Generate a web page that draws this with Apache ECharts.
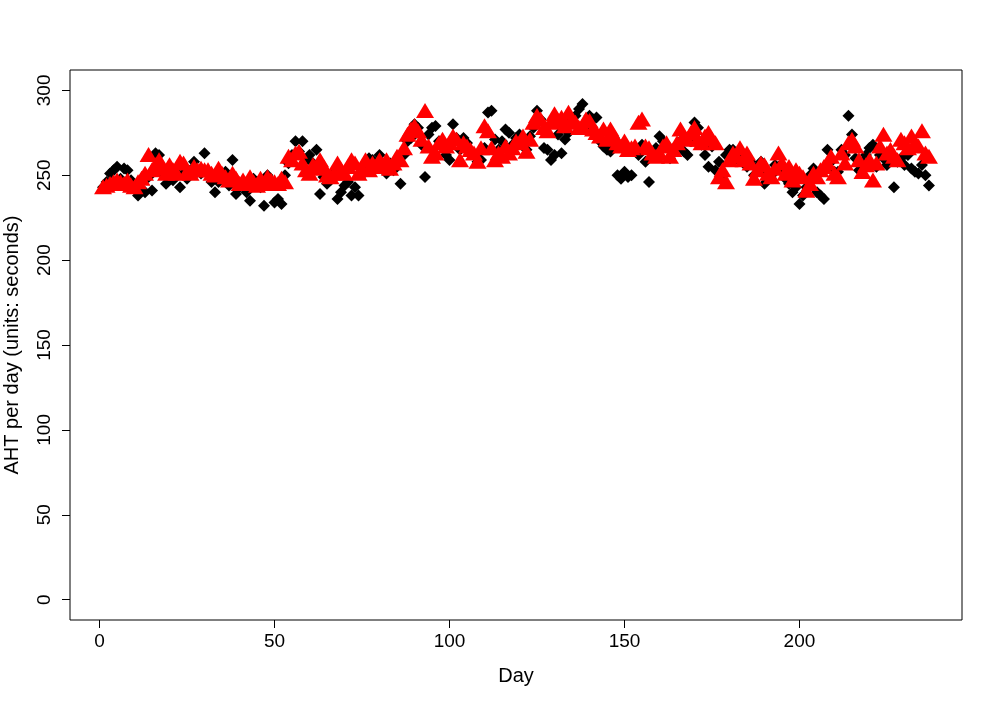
<!DOCTYPE html>
<html>
<head>
<meta charset="utf-8">
<title>AHT per day</title>
<script src="https://cdn.jsdelivr.net/npm/echarts@6/dist/echarts.min.js"></script>
<style>
  html, body { margin: 0; padding: 0; background: #fff; }
  #chart { width: 997px; height: 705px; }
</style>
</head>
<body>
<div id="chart"></div>
<script>
// observed AHT per day (black diamonds), days 1..237
const observed = [
  243, 246, 251, 253, 255, 248, 254, 253, 247, 244,
  238, 242, 240, 249, 241, 263, 262, 251, 245, 249,
  247, 254, 243, 251, 248, 253, 258, 252, 251, 263,
  251, 246, 240, 246, 249, 252, 244, 259, 239, 243,
  246, 240, 235, 248, 246, 243, 232, 250, 246, 234,
  236, 233, 250, 257, 262, 270, 264, 270, 259, 262,
  257, 265, 239, 249, 245, 247, 252, 236, 240, 244,
  246, 238, 243, 238, 255, 252, 260, 259, 257, 262,
  255, 251, 257, 253, 258, 245, 262, 270, 272, 280,
  278, 268, 249, 274, 278, 279, 270, 268, 262, 259,
  280, 272, 265, 272, 269, 264, 262, 258, 259, 266,
  287, 288, 271, 265, 270, 277, 275, 268, 272, 274,
  270, 265, 273, 278, 288, 283, 266, 265, 259, 262,
  274, 263, 271, 275, 283, 285, 289, 292, 279, 285,
  283, 284, 270, 267, 265, 264, 272, 250, 248, 252,
  249, 250, 266, 262, 268, 258, 246, 262, 266, 273,
  270, 268, 260, 264, 266, 270, 264, 262, 270, 281,
  278, 268, 262, 255, 267, 253, 258, 248, 262, 265,
  265, 260, 262, 258, 255, 258, 250, 255, 258, 245,
  252, 250, 256, 255, 252, 248, 245, 240, 243, 233,
  238, 243, 250, 254, 240, 238, 236, 265, 258, 252,
  252, 265, 262, 285, 274, 260, 253, 258, 262, 266,
  268, 255, 262, 260, 256, 262, 243, 258, 260, 256,
  262, 254, 252, 251, 256, 250, 244
]

// fitted AHT per day (red triangles), days 1..237
const fitted = [
  242, 243, 244, 245, 246, 245, 244, 246, 243, 242,
  245, 247, 250, 261, 252, 255, 258, 253, 250, 255,
  252, 250, 257, 256, 251, 250, 254, 252, 253, 252,
  252, 250, 249, 253, 250, 248, 246, 250, 247, 244,
  246, 244, 248, 245, 243, 247, 244, 248, 246, 245,
  244, 247, 245, 260, 258, 262, 263, 256, 252, 250,
  255, 253, 258, 254, 249, 248, 250, 256, 252, 250,
  254, 258, 256, 250, 253, 258, 252, 256, 254, 258,
  255, 258, 253, 256, 260, 258, 265, 273, 276, 278,
  275, 270, 287, 266, 260, 262, 268, 270, 266, 268,
  272, 270, 258, 268, 266, 264, 262, 257, 265, 278,
  275, 265, 258, 262, 260, 266, 262, 265, 269, 268,
  272, 263, 270, 280, 284, 282, 277, 275, 280, 285,
  281, 283, 278, 286, 282, 280, 277, 278, 282, 281,
  276, 274, 272, 276, 270, 276, 272, 268, 266, 269,
  264, 265, 266, 280, 282, 266, 265, 262, 260, 262,
  266, 268, 260, 264, 268, 276, 272, 270, 274, 277,
  270, 268, 272, 274, 270, 268, 248, 252, 245, 258,
  262, 260, 265, 258, 262, 256, 247, 252, 256, 255,
  250, 248, 253, 262, 256, 250, 254, 246, 252, 250,
  248, 240, 244, 250, 248, 252, 254, 256, 260, 250,
  248, 262, 256, 268, 270, 266, 258, 251, 255, 258,
  246, 256, 266, 273, 262, 264, 260, 258, 270, 268,
  265, 272, 268, 266, 275, 262, 260
]

const days = observed.map((_, i) => i + 1)
const xTicks = [0, 50, 100, 150, 200]
const yTicks = [0, 50, 100, 150, 200, 250, 300]

const font = 'Liberation Sans, Arial, sans-serif'
const chart = echarts.init(document.getElementById('chart'))

const option = {
  backgroundColor: '#fff',
  animation: false,
  grid: {
    left: 70,
    right: 35,
    top: 70,
    bottom: 85,
    outerBoundsMode: 'none',
    containLabel: false,
    show: true,
    borderColor: '#000',
    borderWidth: 1,
    backgroundColor: 'transparent'
  },
  xAxis: {
    type: 'value',
    min: -8.44,
    max: 246.44,
    name: 'Day',
    nameLocation: 'middle',
    nameGap: 46,
    nameTextStyle: { color: '#000', fontSize: 20, fontFamily: font },
    axisLine: { show: false, onZero: false },
    axisTick: { show: true, length: 8, customValues: xTicks, lineStyle: { color: '#000' } },
    axisLabel: { color: '#000', fontSize: 19, fontFamily: font, margin: 12, customValues: xTicks },
    splitLine: { show: false }
  },
  yAxis: {
    type: 'value',
    min: -12,
    max: 312,
    name: 'AHT per day (units: seconds)',
    nameLocation: 'middle',
    nameRotate: 90,
    nameGap: 48,
    nameTextStyle: { color: '#000', fontSize: 20, fontFamily: font },
    axisLine: { show: false, onZero: false },
    axisTick: { show: true, length: 8, customValues: yTicks, lineStyle: { color: '#000' } },
    axisLabel: { color: '#000', fontSize: 19, fontFamily: font, margin: 16, rotate: 90, customValues: yTicks },
    splitLine: { show: false }
  },
  series: [
    {
      name: 'observed',
      type: 'scatter',
      symbol: 'diamond',
      symbolSize: 12,
      itemStyle: { color: '#000', opacity: 1 },
      data: days.map((d, i) => [d, observed[i]])
    },
    {
      name: 'fitted',
      type: 'scatter',
      symbol: 'triangle',
      symbolSize: [18, 15],
      symbolOffset: [0, -2],
      itemStyle: { color: '#ff0000', opacity: 1 },
      data: days.map((d, i) => [d, fitted[i]])
    }
  ]
}

chart.setOption(option)
</script>
</body>
</html>
